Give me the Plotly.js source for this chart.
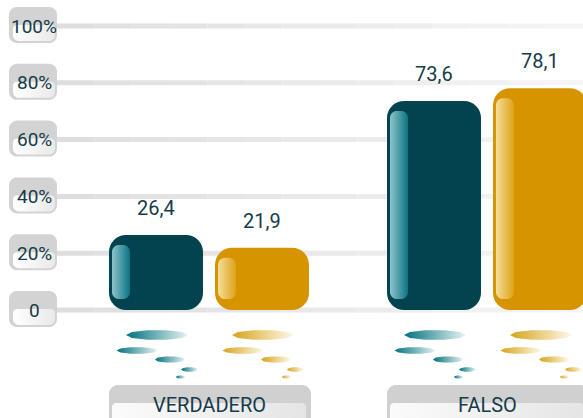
<!DOCTYPE html>
<html>
<head>
<meta charset="utf-8">
<script src="https://cdn.plot.ly/plotly-3.0.1.min.js"></script>
<style>html,body{margin:0;padding:0;background:#fff;}#chart{width:583px;height:418px;}</style>
</head>
<body>
<div id="chart"></div>
<script>
// ---- data ----
const categories = ['VERDADERO', 'FALSO'];
const seriesTeal = [26.4, 73.6];
const seriesGold = [21.9, 78.1];
const tickVals = [0, 20, 40, 60, 80, 100];
const tickText = ['0', '20%', '40%', '60%', '80%', '100%'];

// ---- layout constants (pixels) ----
const W = 583, H = 418;
const ZERO_PX = 310, PPU = 2.84, G0 = 209, STEP = 278;
const dx = p => p / STEP, dy = p => p / PPU;
const px2x = p => (p - G0) / STEP, px2y = p => (ZERO_PX - p) / PPU;
const BAR_W = 94, OFF = [-100, 6];
const COLORS = ['#03434f', '#d69500'];
const HL = [['#8cc4cb', '#0b7382'], ['#f4de98', '#dea21a']];
const ELL = [['#00727e', '#e8f3f4'], ['#d8a31a', '#fef9ea']];
const TXT = '#163c4a';
const FONT = 'Roboto, Arial, sans-serif';
const series = [seriesTeal, seriesGold];

function arc(xs, ys, cx, cy, rx, ry, a0, a1) {
  const N = 10;
  for (let k = 0; k <= N; k++) {
    const a = (a0 + (a1 - a0) * k / N) * Math.PI / 180;
    xs.push(cx + rx * Math.cos(a));
    ys.push(cy + ry * Math.sin(a));
  }
}
// rounded rect in data units; radii in px
function rrect(x0, x1, y0, y1, rT, rB) {
  const xs = [], ys = [];
  arc(xs, ys, x0 + dx(rT), y1 - dy(rT), dx(rT), dy(rT), 180, 90);
  arc(xs, ys, x1 - dx(rT), y1 - dy(rT), dx(rT), dy(rT), 90, 0);
  arc(xs, ys, x1 - dx(rB), y0 + dy(rB), dx(rB), dy(rB), 0, -90);
  arc(xs, ys, x0 + dx(rB), y0 + dy(rB), dx(rB), dy(rB), -90, -180);
  xs.push(xs[0]); ys.push(ys[0]);
  return {x: xs, y: ys};
}
function ellipse(cx, cy, rx, ry) {
  const xs = [], ys = [];
  arc(xs, ys, cx, cy, rx, ry, 0, 360);
  return {x: xs, y: ys};
}
function fillTrace(pts, c0, c1, dir) {
  return {
    type: 'scatter', mode: 'none', x: pts.x, y: pts.y, fill: 'toself',
    fillcolor: c1,
    fillgradient: {type: dir || 'horizontal', colorscale: [[0, c0], [1, c1]]},
    hoverinfo: 'skip', showlegend: false
  };
}

const traces = [];
const idx = categories.map((_, i) => i);

// bars: rounded lower part, rounded upper part and a square middle part
series.forEach((vals, s) => {
  const common = {
    type: 'bar', x: idx, width: dx(BAR_W), offset: dx(OFF[s]),
    marker: {color: COLORS[s], cornerradius: 17, line: {width: 0}},
    hoverinfo: 'skip', showlegend: false
  };
  traces.push(Object.assign({}, common, {
    base: vals.map(v => v * 0.55), y: vals.map(v => -v * 0.55)
  }));
  traces.push(Object.assign({}, common, {
    base: vals.map(v => v * 0.45), y: vals.map(v => v * 0.55)
  }));
  traces.push(Object.assign({}, common, {
    marker: {color: COLORS[s], cornerradius: 0, line: {width: 0}},
    base: vals.map(v => v * 0.3), y: vals.map(v => v * 0.4)
  }));
});

// highlights on bars
series.forEach((vals, s) => {
  vals.forEach((v, i) => {
    const x0 = i + dx(OFF[s] + 3), x1 = i + dx(OFF[s] + 21);
    traces.push(fillTrace(rrect(x0, x1, dy(11), v - dy(10), 7, 7), HL[s][0], HL[s][1]));
  });
});

// decorative reflections under bars
const ELLS = [
  {ox: 1, py: 335, w: 62, h: 10},
  {ox: -19, py: 350.5, w: 41, h: 7},
  {ox: 14, py: 359.5, w: 30, h: 6.5},
  {ox: 33.5, py: 369.5, w: 17, h: 4.5},
  {ox: 24.5, py: 377, w: 9, h: 3}
];
series.forEach((vals, s) => {
  vals.forEach((v, i) => {
    const cx = i + dx(OFF[s] + BAR_W / 2);
    ELLS.forEach(e => {
      traces.push(fillTrace(ellipse(cx + dx(e.ox), px2y(e.py), dx(e.w / 2), dy(e.h / 2)), ELL[s][0], ELL[s][1]));
    });
  });
});

// tick label boxes
tickVals.forEach(v => {
  traces.push(fillTrace(rrect(px2x(9), px2x(57), v - dy(17), v + dy(19), 8, 8), '#d3d3d3', '#d3d3d3'));
  traces.push(fillTrace(rrect(px2x(13), px2x(55), v - dy(15), v + dy(1), 4, 6), '#ffffff', '#e9e9e9'));
});

// category label boxes
categories.forEach((c, i) => {
  traces.push(fillTrace(rrect(i + dx(-100), i + dx(102), px2y(440), px2y(385), 9, 0), '#d0d0d0', '#d0d0d0'));
  traces.push(fillTrace(rrect(i + dx(-97), i + dx(97), px2y(440), px2y(403), 4, 0), '#fbfbfb', '#e5e5e5'));
});

// gridlines (stepped fade to the right)
const shapes = [];
const NSEG = 14;
tickVals.forEach(v => {
  for (let k = 0; k < NSEG; k++) {
    const p0 = 57 + (W - 57) * k / NSEG, p1 = 57 + (W - 57) * (k + 1) / NSEG;
    const g = Math.round(222 + (245 - 222) * k / (NSEG - 1));
    shapes.push({
      type: 'line', xref: 'x', yref: 'y', x0: px2x(p0), x1: px2x(p1), y0: v, y1: v,
      line: {color: `rgb(${g},${g},${g})`, width: 5}, layer: 'below'
    });
  }
});

const annotations = [];
// value labels
series.forEach((vals, s) => {
  vals.forEach((v, i) => {
    annotations.push({
      x: i + dx(OFF[s] + BAR_W / 2), y: v, xref: 'x', yref: 'y', yshift: 27,
      text: v.toFixed(1).replace('.', ','), showarrow: false,
      font: {family: FONT, size: 20, color: TXT}, xanchor: 'center', yanchor: 'middle'
    });
  });
});
// tick labels
tickVals.forEach((v, k) => {
  annotations.push({
    x: px2x(34), y: v, xref: 'x', yref: 'y', text: tickText[k], showarrow: false,
    font: {family: FONT, size: 19, color: TXT}, xanchor: 'center', yanchor: 'middle'
  });
});
// category labels
categories.forEach((c, i) => {
  annotations.push({
    x: i + dx(0), y: px2y(405), xref: 'x', yref: 'y', text: c, showarrow: false,
    font: {family: FONT, size: 20, color: TXT}, xanchor: 'center', yanchor: 'middle'
  });
});

const layout = {
  width: W, height: H, margin: {l: 0, r: 0, t: 0, b: 0},
  paper_bgcolor: '#ffffff', plot_bgcolor: '#ffffff',
  barmode: 'overlay',
  xaxis: {type: 'linear', range: [px2x(0), px2x(W)], visible: false, fixedrange: true},
  yaxis: {range: [px2y(H), px2y(0)], visible: false, fixedrange: true},
  shapes: shapes, annotations: annotations, showlegend: false
};
Plotly.newPlot('chart', traces, layout, {displayModeBar: false, staticPlot: true});
</script>
</body>
</html>
